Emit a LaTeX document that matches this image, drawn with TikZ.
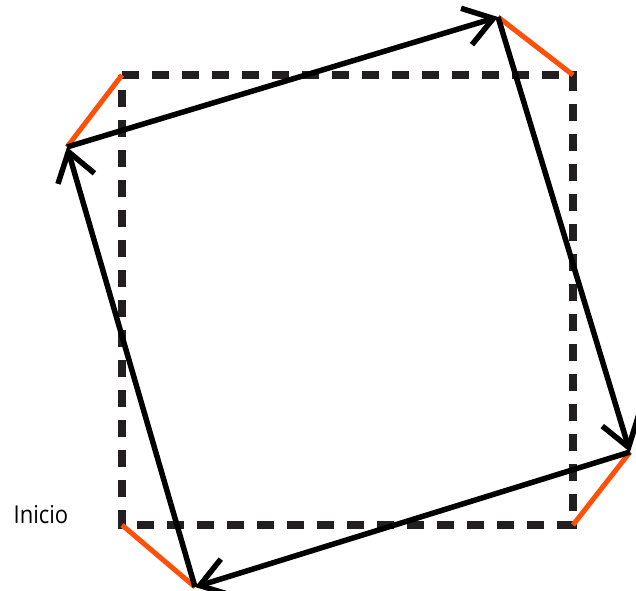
\documentclass[tikz,border=0pt]{standalone}
\usepackage{fontspec}
\setmainfont{Open Sans}
\usetikzlibrary{arrows.meta}
\definecolor{orangeline}{RGB}{255,80,10}
\definecolor{dashgray}{RGB}{35,31,32}
\tikzset{
  frame/.style={draw=dashgray,line width=8pt,dash pattern=on 17pt off 13pt},
  link/.style={draw=orangeline,line width=5pt},
  side/.style={draw=black,line width=5.5pt,-{Straight Barb[length=28pt,width=38pt,line width=5.5pt]}},
  label/.style={font=\fontsize{22}{26}\selectfont,yscale=1.12}
}
\begin{document}
\begin{tikzpicture}[x=1pt,y=-1pt]
\useasboundingbox (0,0) rectangle (636,590);
% dashed square corners
\coordinate (q1) at (122,75);
\coordinate (q2) at (573,75);
\coordinate (q3) at (573,525);
\coordinate (q4) at (122,525);
% rotated square vertices
\coordinate (a) at (67,147);
\coordinate (b) at (498,17);
\coordinate (c) at (630,452);
\coordinate (d) at (195,587);
\draw[frame] (q1) -- (q2) -- (q3) -- (q4) -- cycle;
\draw[link] (q1) -- (a);
\draw[link] (q2) -- (b);
\draw[link] (q3) -- (c);
\draw[link] (q4) -- (d);
\draw[side] (a) -- (b);
\draw[side] (b) -- (c);
\draw[side] (c) -- (d);
\draw[side] (d) -- (a);
\node[label] (inicio) at (41,515) {Inicio};
\end{tikzpicture}
\end{document}
